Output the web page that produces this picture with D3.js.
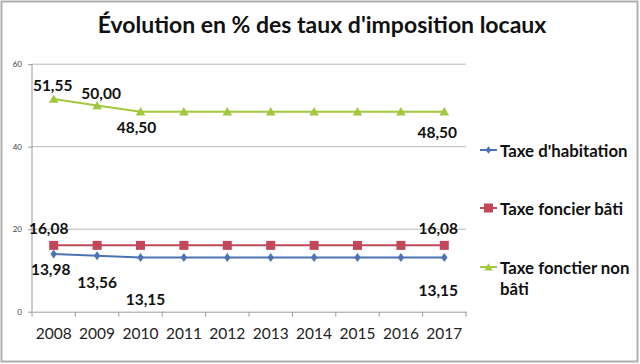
<!DOCTYPE html>
<html><head><meta charset="utf-8">
<script src="https://cdn.jsdelivr.net/npm/d3@7"></script>
<style>body{margin:0;background:#fff}svg{display:block}</style>
</head><body>
<svg id="c" width="640" height="364"></svg>
<script>
const years = ["2008","2009","2010","2011","2012","2013","2014","2015","2016","2017"];
const habitation = [13.98,13.56,13.15,13.15,13.15,13.15,13.15,13.15,13.15,13.15];
const foncierBati = [16.08,16.08,16.08,16.08,16.08,16.08,16.08,16.08,16.08,16.08];
const foncierNonBati = [51.55,50.00,48.50,48.50,48.50,48.50,48.50,48.50,48.50,48.50];
const seriesNames = ["Taxe d'habitation","Taxe foncier bâti","Taxe fonctier non bâti"];
const yTicks = [0,20,40,60];
const title = "Évolution en % des taux d'imposition locaux";

const svg = d3.select("#c");
const font = "Lato, 'Open Sans', sans-serif";
const W = 640, H = 364;
svg.append("rect").attr("x",1.5).attr("y",1.5).attr("width",W-4).attr("height",H-4)
  .attr("fill","#fff").attr("stroke","#b0b0b0").attr("stroke-width",2);

const x = d3.scaleBand().domain(years).range([32,466]);
const y = d3.scaleLinear().domain([0,60]).range([311.7,64.2]);

// gridlines
svg.append("g").selectAll("line").data(yTicks.filter(d=>d>0)).join("line")
  .attr("x1",32).attr("x2",466).attr("y1",d=>y(d)).attr("y2",d=>y(d))
  .attr("stroke","#b8b8b8").attr("stroke-width",1);

// y axis
const ya = svg.append("g").attr("transform","translate(32,0)")
  .call(d3.axisLeft(y).tickValues(yTicks).tickSize(4).tickPadding(6));
ya.selectAll("text").attr("font-family",font).attr("font-size",8).attr("fill","#444");
ya.selectAll("line,path").attr("stroke","#9a9a9a");
ya.select("path").attr("d","M0,311.7V64.2");

// x axis
const xa = svg.append("g").attr("transform","translate(0,311.7)")
  .call(d3.axisBottom(x).tickSize(0).tickPadding(16));
xa.select("path").attr("stroke","#9a9a9a");
xa.selectAll("text").attr("font-family",font).attr("font-size",15.5).attr("fill","#222");
xa.append("g").selectAll("line").data(years.concat(["end"])).join("line")
  .attr("x1",(d,i)=> i<years.length ? x(d) : 466).attr("x2",(d,i)=> i<years.length ? x(d) : 466)
  .attr("y1",0).attr("y2",5).attr("stroke","#9a9a9a");

const cx = d => x(d) + x.bandwidth()/2;
const line = d3.line().x((d,i)=>cx(years[i])).y(d=>y(d));
const colors = ["#4e73b5","#c0485a","#a2c83c"];
const data = [habitation, foncierBati, foncierNonBati];

data.forEach((vals,si)=>{
  svg.append("path").datum(vals).attr("d",line).attr("fill","none")
    .attr("stroke",colors[si]).attr("stroke-width",2);
});
// markers
const mk = (g, si, px, py, s) => {
  if (si===0) g.append("path").attr("d",d3.symbol(d3.symbolDiamond, s*0.9)()).attr("transform",`translate(${px},${py}) scale(1,0.8)`).attr("fill",colors[0]);
  else if (si===1) g.append("rect").attr("x",px-4.5).attr("y",py-4.5).attr("width",9).attr("height",9).attr("fill",colors[1]);
  else g.append("path").attr("d",d3.symbol(d3.symbolTriangle, s)()).attr("transform",`translate(${px},${py+1})`).attr("fill",colors[2]);
};
data.forEach((vals,si)=>{
  const g = svg.append("g");
  vals.forEach((v,i)=> mk(g, si, cx(years[i]), y(v), 40));
});

// data labels
const fmt = v => v.toFixed(2).replace(".",",");
const labels = [
  {s:2,i:0,dx:-1,dy:-14},{s:2,i:1,dx:4,dy:-12},{s:2,i:2,dx:-4,dy:15},{s:2,i:9,dx:-7,dy:20},
  {s:1,i:0,dx:-5,dy:-17},{s:1,i:9,dx:-6,dy:-17},
  {s:0,i:0,dx:-3,dy:15},{s:0,i:1,dx:0,dy:26},{s:0,i:2,dx:5,dy:42},{s:0,i:9,dx:-6,dy:33}
];
svg.append("g").selectAll("text").data(labels).join("text")
  .attr("x",d=>cx(years[d.i])+d.dx).attr("y",d=>y(data[d.s][d.i])+d.dy)
  .attr("text-anchor","middle").attr("dominant-baseline","central")
  .attr("font-family",font).attr("font-weight","bold").attr("font-size",15.5).attr("fill","#111")
  .text(d=>fmt(data[d.s][d.i]));

// legend
const legY = [150,208,267];
seriesNames.forEach((n,si)=>{
  const g = svg.append("g");
  g.append("line").attr("x1",480).attr("x2",497).attr("y1",legY[si]).attr("y2",legY[si]).attr("stroke",colors[si]).attr("stroke-width",2);
  mk(g, si, 488.5, legY[si], 30);
  const t = g.append("text").attr("x",500).attr("y",legY[si]).attr("dominant-baseline","central")
    .attr("font-family",font).attr("font-weight","bold").attr("font-size",16.8).attr("fill","#111");
  if (si===2) {
    t.append("tspan").attr("x",500).text("Taxe fonctier non");
    t.append("tspan").attr("x",500).attr("dy",21).text("bâti");
  } else t.text(n);
});

svg.append("text").attr("x",322).attr("y",33).attr("text-anchor","middle")
  .attr("font-family",font).attr("font-weight","bold").attr("font-size",23).attr("fill","#111")
  .text(title);
</script>
</body></html>
